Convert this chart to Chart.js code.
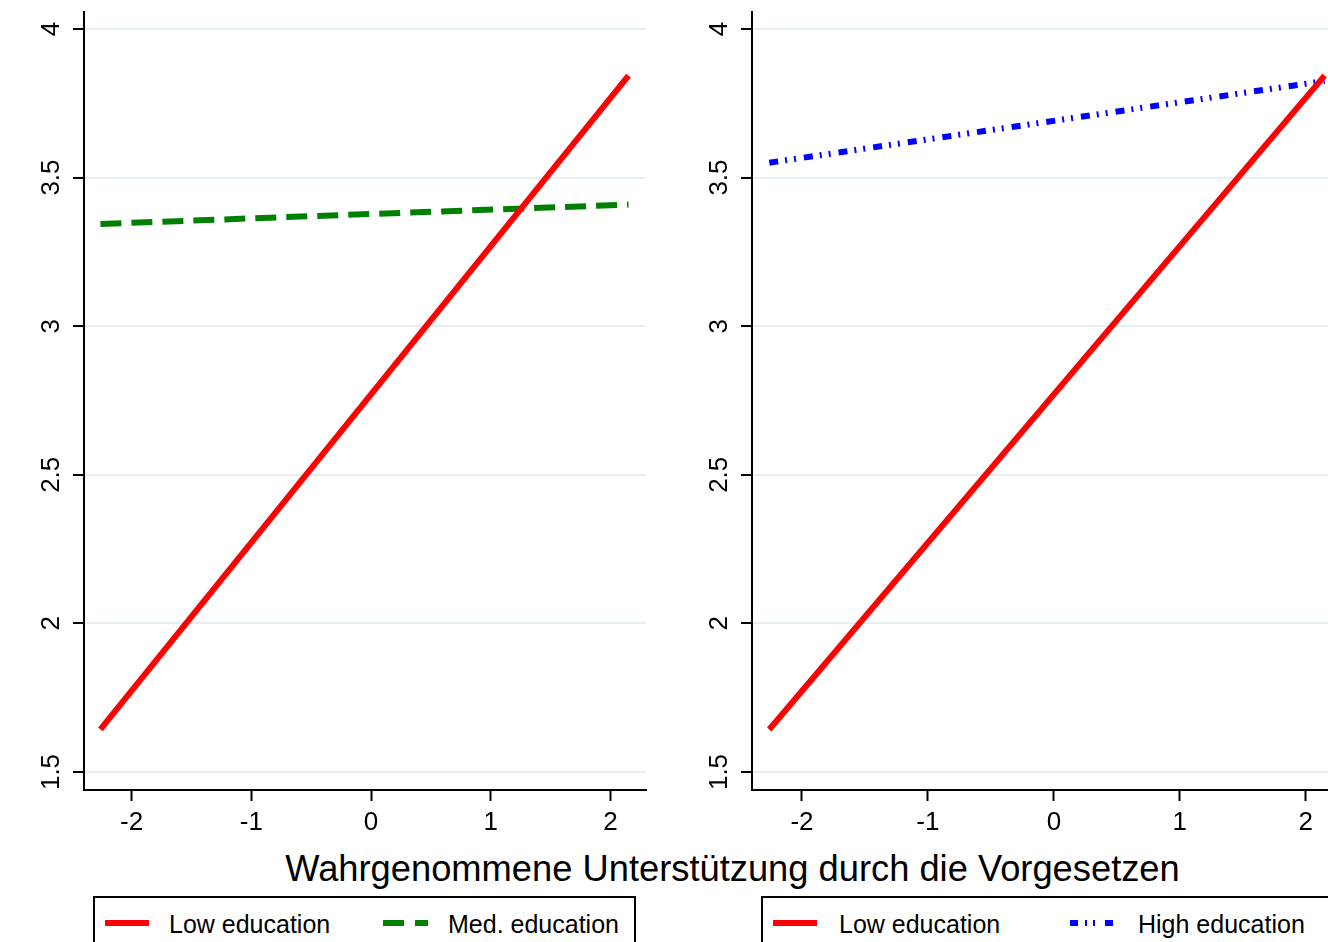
<!DOCTYPE html>
<html>
<head>
<meta charset="utf-8">
<script src="https://cdn.jsdelivr.net/npm/chart.js@4/dist/chart.umd.min.js"></script>
<style>
  html, body { margin: 0; padding: 0; background: #fff; width: 1328px; height: 942px; overflow: hidden; position: relative; }
  canvas { position: absolute; top: 0; }
  .title { position: absolute; left: 0; width: 1465px; top: 851px; text-align: center; font-family: "Liberation Sans", Arial, sans-serif; font-size: 36.3px; line-height: 36px; color: #000; white-space: nowrap; }
  .legend { position: absolute; top: 896px; height: 80px; border: 2px solid #000; box-sizing: border-box; background: #fff; }
  .lt { position: absolute; top: 912px; font-family: "Liberation Sans", Arial, sans-serif; font-size: 25px; line-height: 25px; color: #000; white-space: nowrap; }
  svg.sample { position: absolute; top: 912px; }
</style>
</head>
<body>
<canvas id="left" width="664" height="845" style="left:0px"></canvas>
<canvas id="right" width="700" height="845" style="left:664px"></canvas>

<div class="title">Wahrgenommene Unterstützung durch die Vorgesetzen</div>

<div class="legend" style="left:93px; width:543px;"></div>
<svg class="sample" style="left:103px" width="50" height="22"><line x1="2" y1="11" x2="46" y2="11" stroke="#ff0000" stroke-width="6"/></svg>
<div class="lt" style="left:169px">Low education</div>
<svg class="sample" style="left:381px" width="50" height="22"><line x1="2" y1="11" x2="47" y2="11" stroke="#008000" stroke-width="6" stroke-dasharray="21 11"/></svg>
<div class="lt" style="left:448px">Med. education</div>

<div class="legend" style="left:761px; width:700px;"></div>
<svg class="sample" style="left:771px" width="50" height="22"><line x1="2" y1="11" x2="46" y2="11" stroke="#ff0000" stroke-width="6"/></svg>
<div class="lt" style="left:839px">Low education</div>
<svg class="sample" style="left:1068px" width="50" height="22"><line x1="2" y1="11" x2="45" y2="11" stroke="#0000ff" stroke-width="6" stroke-dasharray="8 7 2 6 2 10 8 100"/></svg>
<div class="lt" style="left:1138px">High education</div>

<script>
// ---- data ----
const xValues = [-2.26, 2.15];
const lowEduLeft = [1.643, 3.843];
const medEdu = [3.344, 3.409];
const lowEduRight = [1.643, 3.843];
const highEdu = [3.550, 3.825];
const xTicks = [-2, -1, 0, 1, 2];
const yTicks = [1.5, 2, 2.5, 3, 3.5, 4];
const xMin = -2.397, xMax = 2.296;
const yMin = 1.4394, yMax = 4.057;

const FONT = '"Liberation Sans", Arial, sans-serif';
const GRID = '#e6eff1';

function pts(arr) { return xValues.map((x, i) => ({ x: x, y: arr[i] })); }

function makeChart(id, datasets, yWidth, padRight) {
  return new Chart(document.getElementById(id), {
    type: 'line',
    data: { datasets: datasets },
    options: {
      responsive: false,
      animation: false,
      devicePixelRatio: 1,
      layout: { padding: { top: 12, right: padRight, left: 0, bottom: 0 } },
      plugins: { legend: { display: false }, tooltip: { enabled: false } },
      elements: { point: { radius: 0 }, line: { tension: 0, borderCapStyle: 'butt' } },
      scales: {
        x: {
          type: 'linear', min: xMin, max: xMax,
          afterBuildTicks: s => { s.ticks = xTicks.map(v => ({ value: v })); },
          afterFit: s => { s.height = 55; s.paddingLeft = 0; s.paddingRight = 0; },
          grid: { drawOnChartArea: false, drawTicks: true, tickLength: 11, tickWidth: 2, tickColor: '#000' },
          border: { display: true, color: '#000', width: 2 },
          ticks: { font: { family: FONT, size: 26 }, color: '#000', padding: 6, maxRotation: 0, callback: v => String(v) }
        },
        y: {
          type: 'linear', min: yMin, max: yMax,
          afterBuildTicks: s => { s.ticks = yTicks.map(v => ({ value: v })); },
          afterFit: s => { s.width = yWidth; s.paddingTop = 0; s.paddingBottom = 0; },
          grid: { drawOnChartArea: true, color: GRID, lineWidth: 2, drawTicks: true, tickLength: 11, tickWidth: 2, tickColor: '#000' },
          border: { display: true, color: '#000', width: 2 },
          ticks: { font: { family: FONT, size: 26 }, color: '#000', padding: 3, minRotation: 90, maxRotation: 90, crossAlign: 'center', callback: v => String(v) }
        }
      }
    }
  });
}

makeChart('left', [
  { label: 'Low education', data: pts(lowEduLeft), borderColor: '#ff0000', borderWidth: 6 },
  { label: 'Med. education', data: pts(medEdu), borderColor: '#008000', borderWidth: 6, borderDash: [21, 10] }
], 84, 18);

makeChart('right', [
  { label: 'Low education', data: pts(lowEduRight), borderColor: '#ff0000', borderWidth: 6 },
  { label: 'High education', data: pts(highEdu), borderColor: '#0000ff', borderWidth: 6, borderDash: [9, 7, 2, 7, 2, 8] }
], 88, 21);
</script>
</body>
</html>
